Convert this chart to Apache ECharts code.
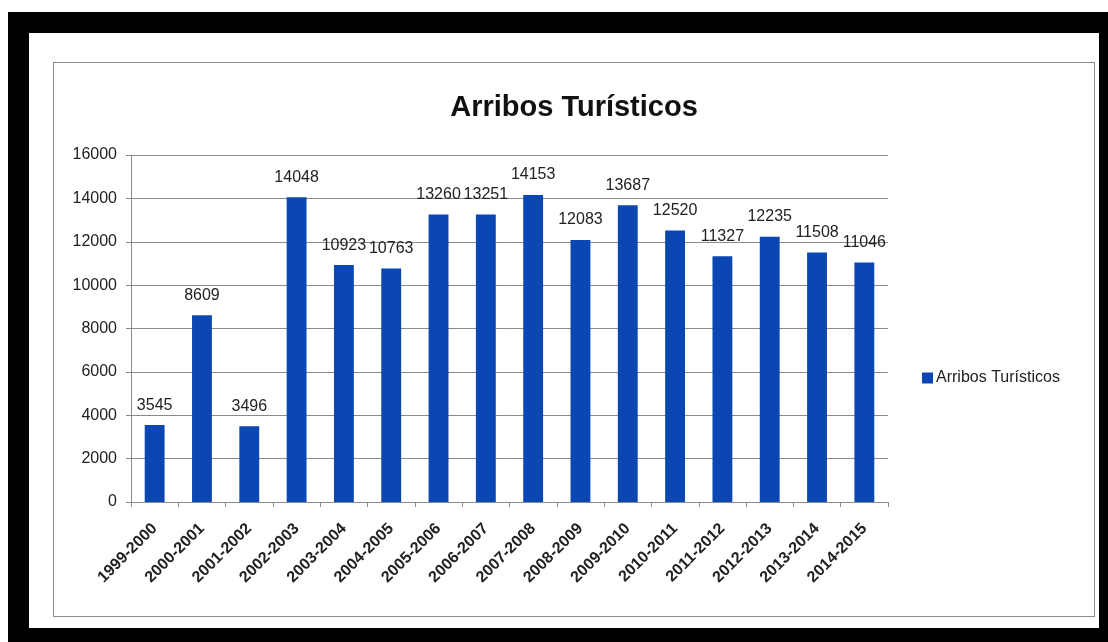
<!DOCTYPE html>
<html>
<head>
<meta charset="utf-8">
<script src="https://cdn.jsdelivr.net/npm/echarts@6/dist/echarts.min.js"></script>
<style>
  html, body { margin: 0; padding: 0; background: #fff; width: 1108px; height: 642px; overflow: hidden; }
  #frame { position: absolute; left: 8px; top: 12px; width: 1100px; height: 630px; background: #000; }
  #inner { position: absolute; left: 29px; top: 33px; width: 1070px; height: 595px; background: #fff; }
  #border { position: absolute; left: 53px; top: 62px; width: 1040px; height: 553px; border: 1px solid #8c8c8c; }
  #chart { position: absolute; left: 0; top: 0; width: 1108px; height: 642px; }
</style>
</head>
<body>
<div id="frame"></div>
<div id="inner"></div>
<div id="border"></div>
<div id="chart"></div>
<script>
const categories = ['1999-2000','2000-2001','2001-2002','2002-2003','2003-2004','2004-2005','2005-2006','2006-2007','2007-2008','2008-2009','2009-2010','2010-2011','2011-2012','2012-2013','2013-2014','2014-2015'];
const arribos = [3545, 8609, 3496, 14048, 10923, 10763, 13260, 13251, 14153, 12083, 13687, 12520, 11327, 12235, 11508, 11046];
const seriesName = 'Arribos Turísticos';
const titleText = 'Arribos Turísticos';

const font = '"Liberation Sans", Arial, sans-serif';
const chart = echarts.init(document.getElementById('chart'), null, { renderer: 'canvas' });
chart.setOption({
  backgroundColor: 'transparent',
  animation: false,
  title: {
    text: titleText,
    left: 569, top: 88, textAlign: 'center',
    textStyle: { fontFamily: font, fontSize: 29, fontWeight: 'bold', color: '#111' }
  },
  legend: {
    data: [seriesName],
    left: 917, top: 365,
    itemWidth: 11, itemHeight: 11, itemGap: 5,
    icon: 'rect',
    textStyle: { fontFamily: font, fontSize: 16, color: '#222', padding: [0,0,0,-2] }
  },
  grid: { left: 131, right: 220, top: 155, bottom: 140, containLabel: false },
  xAxis: {
    type: 'category',
    data: categories,
    boundaryGap: true,
    axisLine: { show: true, lineStyle: { color: '#8a8a8a', width: 1 } },
    axisTick: { show: true, length: 5, alignWithLabel: false, lineStyle: { color: '#8a8a8a' } },
    axisLabel: { rotate: 45, interval: 0, margin: 24, fontFamily: font, fontSize: 16, fontWeight: 'bold', color: '#222' },
    splitLine: { show: false }
  },
  yAxis: {
    type: 'value',
    min: 0, max: 16000, interval: 2000,
    axisLine: { show: true, lineStyle: { color: '#8a8a8a', width: 1 } },
    axisTick: { show: true, length: 5, lineStyle: { color: '#8a8a8a' } },
    axisLabel: { margin: 14, fontFamily: font, fontSize: 16, color: '#222', formatter: function (v) { return String(v); } },
    splitLine: { show: true, lineStyle: { color: '#8a8a8a', width: 1 } }
  },
  series: [{
    name: seriesName,
    type: 'bar',
    data: arribos,
    barWidth: '42%',
    itemStyle: { color: '#0b47b3' },
    label: { show: true, position: 'top', distance: 12, fontFamily: font, fontSize: 16, color: '#222' }
  }]
});
</script>
</body>
</html>
